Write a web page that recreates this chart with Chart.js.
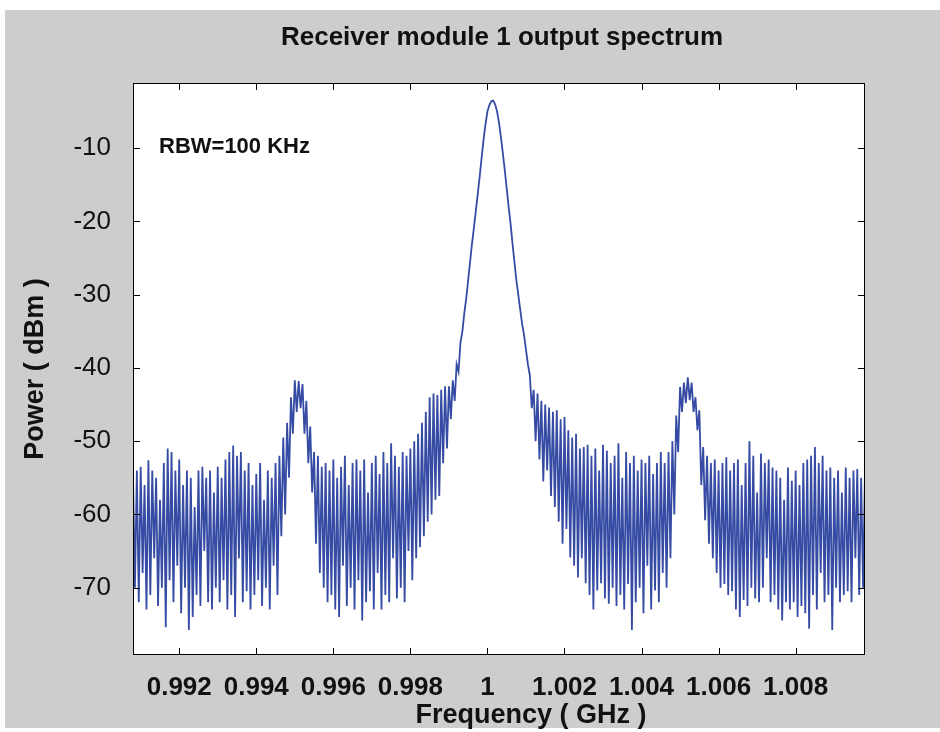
<!DOCTYPE html>
<html>
<head>
<meta charset="utf-8">
<title>Receiver module 1 output spectrum</title>
<script src="https://cdn.jsdelivr.net/npm/chart.js@4.4.0/dist/chart.umd.min.js"></script>
<style>
  html, body { margin: 0; padding: 0; background: #fff; }
  #wrap { width: 940px; height: 732px; }
</style>
</head>
<body>
<div id="wrap"><canvas id="spectrum" width="940" height="732"></canvas></div>
<script>
// sweep: one sample every 0.00005 GHz starting at the left edge
const freqStart = 0.9908;
const freqStep = 0.00005;

// power readings (dBm), left to right, split by region of the trace
const leftNoise = [
  -55, -70, -54, -72, -53.5, -68, -56, -73, -52.6, -71,
  -54, -66, -55, -72.5, -58, -70, -53, -75.4, -51, -69,
  -51.5, -72, -54, -67, -52.5, -73.5, -56, -70, -54, -75.8,
  -55, -74, -59, -71, -54, -72.5, -53.5, -65, -55, -72,
  -54, -73, -57, -70, -53.5, -72, -55, -69, -52.5, -73,
  -51.5, -71, -50.6, -74, -52, -66, -51.5, -72, -54, -70.5,
  -53, -73, -56, -71, -54.5, -69, -53, -72.5, -58, -70,
  -54, -73, -55, -67, -53, -71];
const leftSideband = [
  -52, -63, -49.5, -60, -47.5, -55, -44, -49, -41.7, -46,
  -41.8, -45.5, -42.2, -49, -44.5, -53, -48, -57, -51.5, -64,
  -52, -68, -53.5, -70];
const midNoise = [
  -53, -72, -54, -71, -52.5, -73, -55, -74, -53.5, -67,
  -52, -72.5, -56, -70, -53, -73, -52.5, -69, -54, -74.5,
  -52.5, -72, -57, -70.5, -53, -73, -52, -68, -54.5, -73,
  -51.5, -71, -53, -72, -50.3, -66, -52, -71.5, -53.5, -70,
  -51.5, -72, -52, -65, -51, -69];
const mainPeak = [
  -50, -66, -49, -64.5, -47.5, -63, -46, -61, -44, -60,
  -43.5, -58, -43.7, -57.5, -43, -53, -42.5, -51, -42.5, -47,
  -41.7, -44.5, -39.5, -40.5, -36.5, -35, -32.5, -30.5, -28, -25.5,
  -23, -20.8, -18.5, -16.2, -13.8, -11.3, -8.8, -6.7, -5, -4.1,
  -3.6, -3.5, -4, -5, -6.5, -8.5, -10.7, -13, -15.5, -18,
  -20.3, -23, -25.5, -28, -30, -32, -34, -35.5, -37.5, -39.5];
const rightSkirt = [
  -41, -45.5, -43, -50, -43.5, -52.5, -44.5, -55.5, -45, -54,
  -45.4, -57.5, -46, -59, -45.8, -61, -47, -64, -46.7, -62,
  -48.5, -65.9, -49.5, -67, -49, -68.6, -51, -66, -50.8, -69.4,
  -50.5, -71, -52, -73, -51, -70.4, -54, -69.4, -50.5, -71.5,
  -51.3, -72.2, -53, -70, -52, -72.5, -50.3, -71, -55, -73,
  -51.5, -69.5, -53, -75.8, -52, -72, -54, -70, -52.5, -73.5,
  -53, -67, -52, -73, -54.5, -70.4, -53, -72, -51.5, -68,
  -53, -70, -51.5, -66];
const rightSideband = [
  -50, -60, -46.5, -51.5, -42.6, -46, -42, -44.8, -41.3, -44.4,
  -42, -46, -44, -48.5, -45.8, -56, -50.8, -60.8, -52, -64];
const farNoise = [
  -53, -66, -52.5, -68, -54, -70, -53, -69.5, -52.2, -71,
  -54, -70.5, -53, -73, -52.5, -74, -56, -71.7, -53, -72.5,
  -50, -70, -52, -71.5, -57, -72, -51.7, -70, -53, -66,
  -52.5, -72, -53.6, -71, -54, -73, -55, -74.5, -58, -72,
  -53.6, -73, -55.4, -72, -54, -74, -56, -72.5, -53, -73.5,
  -52.5, -75.6, -52, -71, -50.8, -73, -53, -68, -52, -72,
  -54, -71, -53.6, -75.8, -55, -70, -54, -72, -57, -71,
  -53.6, -70.5, -55, -72, -54, -66, -53.8, -71, -55, -70,
  -54];

const xTicks = [0.992, 0.994, 0.996, 0.998, 1.0, 1.002, 1.004, 1.006, 1.008];
const yTicks = [-70, -60, -50, -40, -30, -20, -10];

const power = [].concat(leftNoise, leftSideband, midNoise, mainPeak, rightSkirt, rightSideband, farNoise);
const points = power.map((p, i) => ({ x: freqStart + i * freqStep, y: p }));

const FONT = '"Liberation Sans", Arial, Helvetica, sans-serif';
const INK = '#111';

const framePlugin = {
  id: 'frame',
  beforeDraw(chart) {
    const { ctx, chartArea: a } = chart;
    ctx.save();
    ctx.fillStyle = '#fff';
    ctx.fillRect(0, 0, chart.width, chart.height);
    ctx.fillStyle = '#cdcdcd';
    ctx.fillRect(5, 10, 935, 718);
    ctx.fillStyle = '#fff';
    ctx.fillRect(a.left, a.top, a.right - a.left, a.bottom - a.top);
    ctx.restore();
  },
  afterDraw(chart) {
    const { ctx, chartArea: a, scales: { x, y } } = chart;
    ctx.save();
    ctx.strokeStyle = '#000';
    ctx.lineWidth = 1;
    ctx.strokeRect(a.left + 0.5, a.top + 0.5, a.right - a.left - 1, a.bottom - a.top - 1);
    ctx.beginPath();
    x.ticks.forEach(t => {
      const px = Math.round(x.getPixelForValue(t.value)) + 0.5;
      ctx.moveTo(px, a.top); ctx.lineTo(px, a.top + 7);
      ctx.moveTo(px, a.bottom); ctx.lineTo(px, a.bottom - 7);
    });
    y.ticks.forEach(t => {
      const py = Math.round(y.getPixelForValue(t.value)) + 0.5;
      ctx.moveTo(a.left, py); ctx.lineTo(a.left + 7, py);
      ctx.moveTo(a.right, py); ctx.lineTo(a.right - 7, py);
    });
    ctx.stroke();

    ctx.fillStyle = INK;
    ctx.textAlign = 'center';
    ctx.textBaseline = 'middle';
    ctx.font = 'bold 26px ' + FONT;
    ctx.fillText('Receiver module 1 output spectrum', 502, 38);
    ctx.font = 'bold 27px ' + FONT;
    ctx.fillText('Frequency ( GHz )', 531, 716);
    ctx.textAlign = 'left';
    ctx.font = 'bold 22px ' + FONT;
    ctx.fillText('RBW=100 KHz', 159, 147);
    ctx.restore();
  }
};

new Chart(document.getElementById('spectrum'), {
  type: 'line',
  data: {
    datasets: [{
      data: points,
      borderColor: '#364ca4',
      borderWidth: 1.8,
      pointRadius: 0,
      tension: 0,
      fill: false
    }]
  },
  options: {
    responsive: false,
    animation: false,
    devicePixelRatio: 1,
    layout: { padding: { left: 19, right: 75, top: 83, bottom: 0 } },
    plugins: { legend: { display: false }, tooltip: { enabled: false } },
    scales: {
      x: {
        type: 'linear',
        min: 0.9908,
        max: 1.0098,
        afterBuildTicks: s => { s.ticks = xTicks.map(v => ({ value: v })); },
        afterFit: s => { s.height = 77; },
        grid: { display: false, drawTicks: false },
        border: { display: false },
        ticks: {
          autoSkip: false,
          maxRotation: 0,
          padding: 17,
          color: INK,
          font: { family: FONT, size: 26, weight: 'bold' },
          callback: v => String(+v.toFixed(3))
        }
      },
      y: {
        min: -79.2,
        max: -1.1,
        afterBuildTicks: s => { s.ticks = yTicks.map(v => ({ value: v })); },
        afterFit: s => { s.width = 114; },
        grid: { display: false, drawTicks: false },
        border: { display: false },
        ticks: {
          padding: 22,
          color: INK,
          font: { family: FONT, size: 26 }
        },
        title: {
          display: true,
          text: 'Power ( dBm )',
          color: INK,
          padding: 0,
          font: { family: FONT, size: 27, weight: 'bold' }
        }
      }
    }
  },
  plugins: [framePlugin]
});
</script>
</body>
</html>
